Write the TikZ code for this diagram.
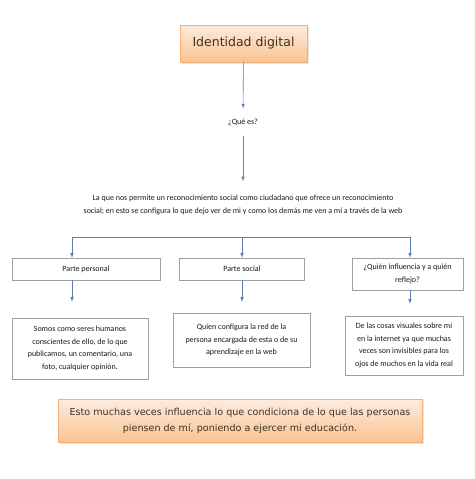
\documentclass[tikz,border=0pt]{standalone}
\usepackage{fontspec}
\setmainfont{Carlito}
\newfontfamily\comicfont{DejaVu Sans}
\usetikzlibrary{shadows}

\definecolor{arrowblue}{HTML}{5B7DB1}
\definecolor{peachtop}{HTML}{FDEBDD}
\definecolor{peachbot}{HTML}{FAC38F}
\definecolor{peachline}{HTML}{F5B07A}
\definecolor{textbrown}{HTML}{3E3226}

\tikzset{
  orangebox/.style={draw=peachline, top color=peachtop, bottom color=peachbot,
    font=\comicfont, text=textbrown, align=center,
    drop shadow={opacity=0.2, shadow xshift=1.5pt, shadow yshift=-1.5pt}},
  graybox/.style={draw=gray!75, fill=white, align=center, inner sep=2pt,
    font=\fontsize{8}{12.5}\selectfont, text=black!90},
  plaintext/.style={align=center, inner sep=0pt, font=\fontsize{8}{13}\selectfont, text=black!90},
  link/.style={->, arrowblue, semithick},
  greylink/.style={->, gray, semithick},
}

\begin{document}
\begin{tikzpicture}[x=1pt, y=-1pt, >=latex]
\fill[white] (0,0) rectangle (474,479);
\useasboundingbox (0,0) rectangle (474,479);

% title and question
\node[orangebox, minimum width=127pt, minimum height=37pt, font=\comicfont\fontsize{12.5}{14}\selectfont] (title) at (243.5,43.5) {Identidad digital};
\node[plaintext] (que) at (243,122) {¿Qué es?};
\node[plaintext] (desc) at (243,204.5) {La que nos permite un reconocimiento social como ciudadano que ofrece un reconocimiento\\
  social; en esto se configura lo que dejo ver de mi y como los demás me ven a mí a través de la web};

\draw[link, shorten >=10pt] (title) -- (que);
\draw[greylink, shorten <=10pt, shorten >=13pt] (que) -- (desc);

% three branches
\coordinate (branchL) at (72,237);
\coordinate (branchM) at (242,237);
\coordinate (branchR) at (410,237);

\node[graybox, minimum width=148pt, minimum height=22pt] (personal) at (86,269) {Parte personal};
\node[graybox, minimum width=125pt, minimum height=22pt] (social) at (242,269) {Parte social};
\node[graybox, minimum width=111pt, minimum height=32pt] (quien) at (407.5,274) {¿Quién influencia y a quién\\ reflejo?};

\draw[arrowblue, semithick] (branchL) -- (branchR);
\draw[link] (branchL) -- (branchL |- personal.north);
\draw[link] (branchM) -- (branchM |- social.north);
\draw[link] (branchR) -- (branchR |- quien.north);

% details
\node[graybox, minimum width=136pt, minimum height=61pt] (somos) at (80,348.5) {Somos como seres humanos\\ conscientes de ello, de lo que\\ publicamos, un comentario, una\\ foto, cualquier opinión.};
\node[graybox, minimum width=137pt, minimum height=54pt] (red) at (241.5,340) {Quien configura la red de la\\ persona encargada de esta o de su\\ aprendizaje en la web};
\node[graybox, minimum width=118pt, minimum height=59pt] (cosas) at (404,345.5) {De las cosas visuales sobre mi\\ en la internet ya que muchas\\ veces son invisibles para los\\ ojos de muchos en la vida real};

\draw[link, shorten >=16pt] (branchL |- personal.south) -- (branchL |- somos.north);
\draw[link, shorten >=11pt] (branchM |- social.south) -- (branchM |- red.north);
\draw[link, shorten >=12pt] (branchR |- quien.south) -- (branchR |- cosas.north);

% conclusion
\node[orangebox, minimum width=364pt, minimum height=43pt, font=\comicfont\fontsize{9.6}{15.5}\selectfont] (esto) at (240,421) {Esto muchas veces influencia lo que condiciona de lo que las personas\\ piensen de mí, poniendo a ejercer mi educación.};
\end{tikzpicture}
\end{document}
